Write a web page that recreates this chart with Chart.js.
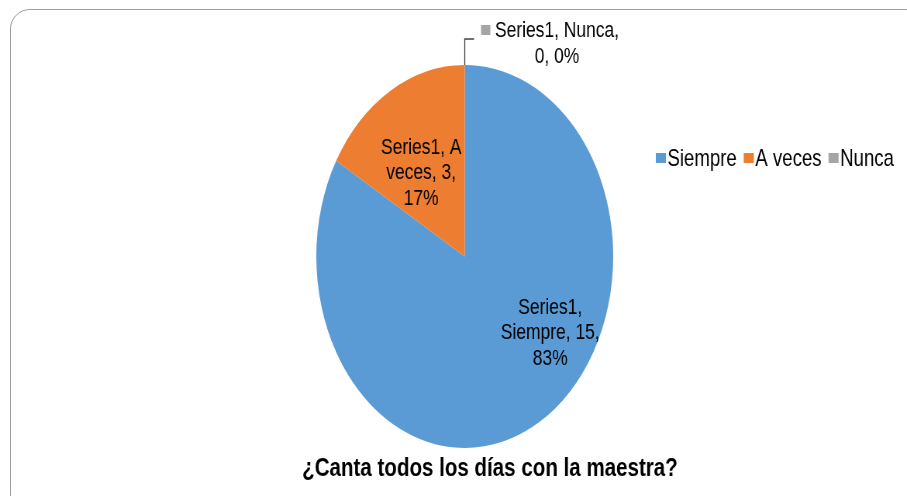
<!DOCTYPE html>
<html><head><meta charset="utf-8">
<script src="https://cdn.jsdelivr.net/npm/chart.js@4.4.1/dist/chart.umd.min.js"></script>
<style>
html,body{margin:0;padding:0;background:#fff;overflow:hidden;width:907px;height:496px;}
#frame{position:absolute;left:10px;top:9px;width:916px;height:506px;border:1.5px solid #9e9e9e;border-radius:20px;box-sizing:border-box;}
#wrap{position:absolute;left:0;top:0;width:1170px;height:496px;transform:scaleX(0.77521);transform-origin:0 0;}
</style></head><body>
<div id="frame"></div>
<div id="wrap"><canvas id="c" width="1170" height="496"></canvas></div>
<script>
// ---- data ----
const seriesName = 'Series1';
const categories = ['Siempre', 'A veces', 'Nunca'];
const values = [15, 3, 0];
const chartTitle = '¿Canta todos los días con la maestra?';

// ---- styles ----
const colors = ['#5B9BD5', '#ED7D31', '#A5A5A5'];
const FONT = '"Liberation Sans", Arial, sans-serif';
const labelFont = '22.5px ' + FONT;
const legendFont = '24px ' + FONT;
const titleFont = 'bold 26.5px ' + FONT;
// per-slice label placement: radial fraction, angle shift (deg), wrap width
const labelPlace = [
  { f: 0.70, da: -25.3, wrap: 150 },
  { f: 0.525, da: -4, wrap: 118 },
  { f: 1, da: 0, wrap: 168 }
];

function wrapText(ctx, text, maxW) {
  const words = text.split(' ');
  const lines = [];
  let cur = '';
  words.forEach(w => {
    const t = cur ? cur + ' ' + w : w;
    if (cur && ctx.measureText(t).width > maxW) { lines.push(cur); cur = w; }
    else cur = t;
  });
  if (cur) lines.push(cur);
  return lines;
}

const total = values.reduce((a, b) => a + b, 0);

const customDraw = {
  id: 'customDraw',
  afterDatasetsDraw(chart) {
    const ctx = chart.ctx;
    const meta = chart.getDatasetMeta(0);
    ctx.save();
    ctx.font = labelFont;
    ctx.fillStyle = '#000';
    ctx.textBaseline = 'middle';
    const LH = 25.5;
    meta.data.forEach((arc, i) => {
      const p = arc.getProps(['x', 'y', 'startAngle', 'endAngle', 'outerRadius'], true);
      const pct = Math.round(values[i] / total * 100) + '%';
      const txt = `${seriesName}, ${categories[i]}, ${values[i]}, ${pct}`;
      const lines = wrapText(ctx, txt, labelPlace[i].wrap);
      if (values[i] > 0) {
        const a = (p.startAngle + p.endAngle) / 2 + labelPlace[i].da * Math.PI / 180;
        const r = p.outerRadius * labelPlace[i].f;
        const cx = p.x + Math.cos(a) * r;
        const cy = p.y + Math.sin(a) * r;
        ctx.textAlign = 'center';
        lines.forEach((ln, k) => {
          ctx.fillText(ln, cx, cy + (k - (lines.length - 1) / 2) * LH);
        });
      } else {
        // outside label with leader line for a zero slice
        const a = p.startAngle;
        const ex = p.x + Math.cos(a) * p.outerRadius;
        const ey = p.y + Math.sin(a) * p.outerRadius;
        const ty = ey - 26;
        ctx.strokeStyle = '#404040';
        ctx.lineWidth = 1.3;
        ctx.beginPath();
        ctx.moveTo(ex, ey);
        ctx.lineTo(ex, ty);
        ctx.lineTo(ex + 12, ty);
        ctx.stroke();
        const keyX = ex + 21;
        ctx.fillStyle = colors[i];
        ctx.fillRect(keyX, ty - 14, 12, 10);
        ctx.fillStyle = '#000';
        const tx = keyX + 18;
        const w1 = ctx.measureText(lines[0]).width;
        const mx = tx + w1 / 2;
        const y1 = ty - 8;
        ctx.textAlign = 'center';
        lines.forEach((ln, k) => ctx.fillText(ln, mx, y1 + k * LH));
      }
    });
    ctx.restore();
  },
  afterDraw(chart) {
    const ctx = chart.ctx;
    ctx.save();
    // legend
    ctx.font = legendFont;
    ctx.textBaseline = 'middle';
    ctx.textAlign = 'left';
    let x = 846;
    const yC = 158;
    categories.forEach((c, i) => {
      ctx.fillStyle = colors[i];
      ctx.fillRect(x, yC - 5, 13, 10);
      x += 15;
      ctx.fillStyle = '#000';
      ctx.fillText(c, x, yC + 1);
      x += ctx.measureText(c).width + 9;
    });
    // title
    ctx.font = titleFont;
    ctx.textAlign = 'center';
    ctx.fillStyle = '#000';
    ctx.fillText(chartTitle, 632, 469);
    ctx.restore();
  }
};

new Chart(document.getElementById('c'), {
  type: 'pie',
  data: {
    labels: categories,
    datasets: [{ label: seriesName, data: values, backgroundColor: colors, borderWidth: 0 }]
  },
  options: {
    responsive: false,
    animation: false,
    layout: { padding: { left: 229, right: 200, top: 65, bottom: 48 } },
    plugins: {
      legend: { display: false },
      title: { display: false },
      tooltip: { enabled: false }
    }
  },
  plugins: [customDraw]
});
</script>
</body></html>
